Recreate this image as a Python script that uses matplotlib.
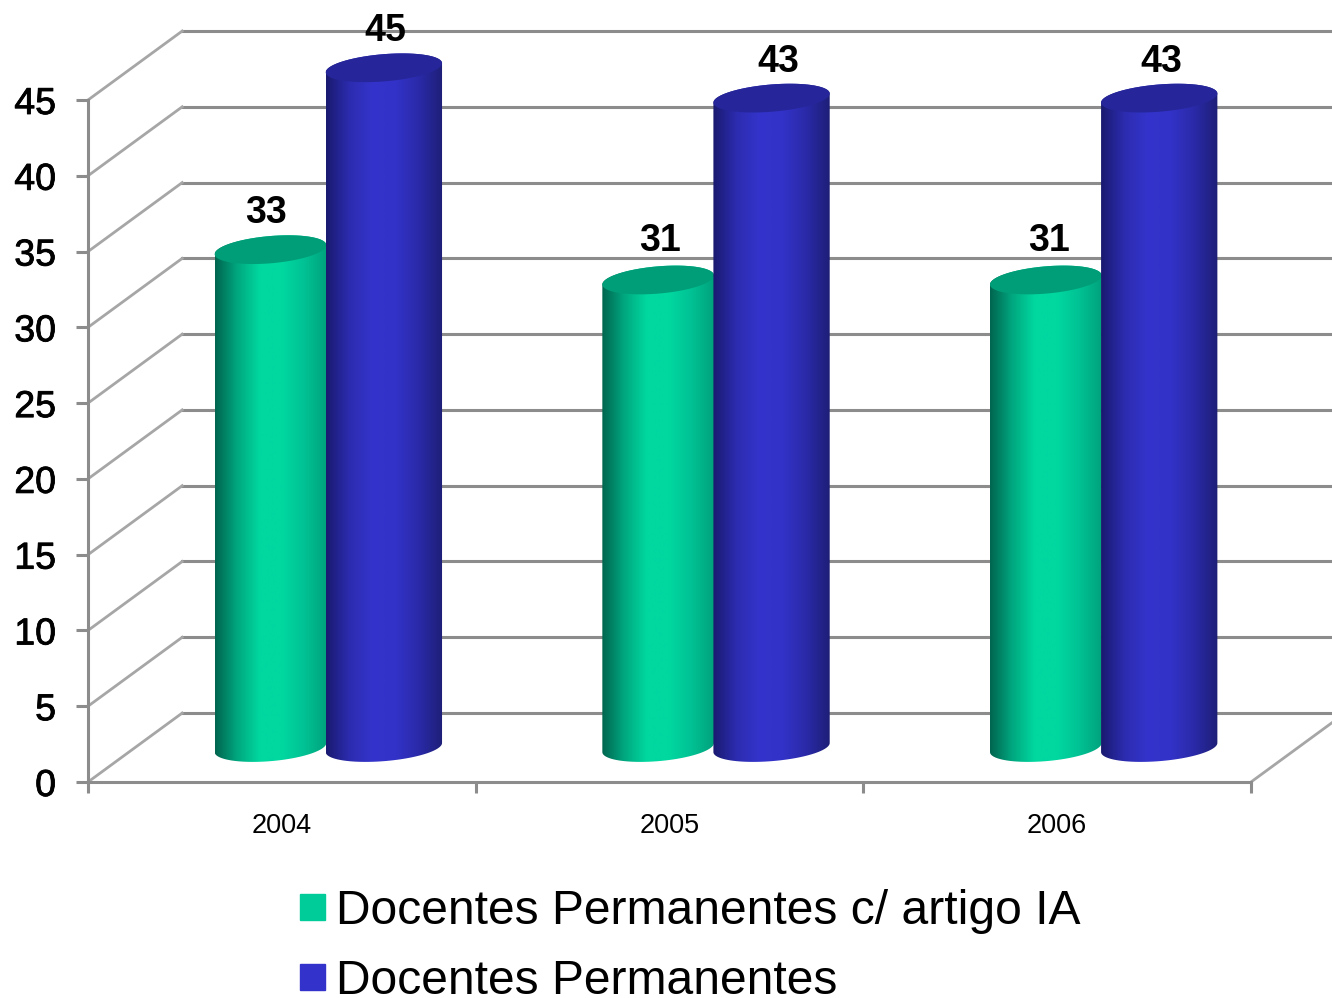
import numpy as np
import matplotlib
matplotlib.use("Agg")
import matplotlib.pyplot as plt
import matplotlib.patheffects as pe
from matplotlib.colors import LinearSegmentedColormap
from matplotlib.patches import Patch, Polygon

years = ["2004", "2005", "2006"]
com_artigo = [33, 31, 31]
permanentes = [45, 43, 43]
y_ticks = [0, 5, 10, 15, 20, 25, 30, 35, 40, 45]
legend_labels = ["Docentes Permanentes c/ artigo IA", "Docentes Permanentes"]

plt.rcParams['font.family'] = ['Liberation Sans', 'DejaVu Sans']

W, H = 1332, 998
fig = plt.figure(figsize=(W / 100, H / 100), dpi=100)
ax = fig.add_axes([88 / W, (H - 782) / H, (1251 - 88) / W, (782 - 100) / H])
ax.patch.set_alpha(0)

# profundidade da "caixa" 3D, em unidades de dados
depth_x = 0.243
depth_y = 4.55
grey = '#8c8c8c'

verde = LinearSegmentedColormap.from_list('verde', ['#006650', '#00a880', '#00d8a0', '#00d8a0', '#00c294', '#00a27c'])
azul = LinearSegmentedColormap.from_list('azul', ['#1a1a70', '#2c2cb0', '#3434cc', '#3232c8', '#2a2aa8', '#1e1e78'])


def cilindro(cx, value, width, cmap, cap_color, z):
    a = width / 2
    b = 0.9
    tilt = 0.3
    base = depth_y / 2
    top = value + depth_y / 2 - 0.15
    t_low = np.linspace(np.pi, 2 * np.pi, 80)
    t_up = np.linspace(0, np.pi, 80)
    low = np.column_stack([cx + a * np.cos(t_low), base + b * np.sin(t_low) + tilt * np.cos(t_low)])
    up = np.column_stack([cx + a * np.cos(t_up), top + b * np.sin(t_up) + tilt * np.cos(t_up)])
    body = Polygon(np.vstack([low, up]), closed=True, transform=ax.transData, fc='none', ec='none')
    ax.add_patch(body)
    im = ax.imshow(np.linspace(0, 1, 200).reshape(1, -1), cmap=cmap, aspect='auto', interpolation='bilinear',
                   extent=[cx - a, cx + a, base - 2, top + 2], zorder=z)
    im.set_clip_path(body)
    im.set_clip_box(fig.bbox)
    t_all = np.linspace(0, 2 * np.pi, 160)
    cap = np.column_stack([cx + a * np.cos(t_all), top + b * np.sin(t_all) + tilt * np.cos(t_all)])
    ax.add_patch(Polygon(cap, closed=True, fc=cap_color, ec='none', zorder=z + 0.1, clip_on=False))


# paredes: linhas do fundo e diagonais
for v in y_ticks:
    ax.plot([depth_x, 3 + depth_x], [v + depth_y, v + depth_y], color=grey, lw=2.2, clip_on=False, zorder=1)
    ax.plot([0, depth_x], [v, v + depth_y], color='#a6a6a6', lw=2.0, clip_on=False, zorder=1)
ax.plot([3, 3 + depth_x], [0, depth_y], color='#a6a6a6', lw=2.0, clip_on=False, zorder=1)

# cilindros
bar_w = 0.30
step = 0.2875
for i in range(3):
    mid = i + 0.5 + depth_x / 2
    cilindro(mid - step / 2 - 0.007, com_artigo[i], bar_w - 0.012, verde, '#009e78', 3)
    cilindro(mid + step / 2 - 0.002, permanentes[i], bar_w, azul, '#26269a', 4)

# rótulos de valor (deslocamento em px, como no original)
dx_verde = [-8, -1, 0]
dy_verde = [0, 3, 3]
dx_azul = [0, 6, 1]
for i in range(3):
    mid = i + 0.5 + depth_x / 2
    ax.annotate(str(com_artigo[i]), (mid - step / 2 - 0.012, com_artigo[i] + depth_y / 2),
                xytext=((dx_verde[i] + 5) * 0.72, 24.5 + dy_verde[i] * 0.72), textcoords='offset points',
                ha='center', va='center', fontsize=27, fontweight='bold', zorder=6, annotation_clip=False)
    ax.annotate(str(permanentes[i]), (mid + step / 2 - 0.002, permanentes[i] + depth_y / 2),
                xytext=((dx_azul[i] + 1) * 0.72, 24.5), textcoords='offset points',
                ha='center', va='center', fontsize=27, fontweight='bold', zorder=6, annotation_clip=False)

ax.set_xlim(0, 3)
ax.set_ylim(0, 45)
for s in ['top', 'right']:
    ax.spines[s].set_visible(False)
for s in ['left', 'bottom']:
    ax.spines[s].set_color(grey)
    ax.spines[s].set_linewidth(2.2)

ax.set_yticks(y_ticks)
ax.set_yticklabels([str(v) for v in y_ticks], fontsize=27,
                   path_effects=[pe.withStroke(linewidth=0.6, foreground='black')])
ax.tick_params(axis='y', length=9, width=2.2, color=grey, pad=14)
ax.set_xticks([0, 1, 2, 3])
ax.set_xticklabels([])
ax.tick_params(axis='x', which='major', length=8, width=2.2, color=grey)
ax.set_xticks([0.5, 1.5, 2.5], minor=True)
ax.set_xticklabels(years, minor=True, fontsize=19.5)
ax.tick_params(axis='x', which='minor', length=0, pad=22)

handles = [Patch(color='#00cc99'), Patch(color='#3333cc')]
ax.legend(handles, legend_labels, loc='lower left', bbox_to_anchor=(300 / W, -6 / H), bbox_transform=fig.transFigure,
          frameon=False, fontsize=34.6, handlelength=0.52, handleheight=0.457, handletextpad=0.22,
          labelspacing=0.51, borderpad=0, borderaxespad=0)

fig.savefig('out.png', dpi=100, facecolor='white')
